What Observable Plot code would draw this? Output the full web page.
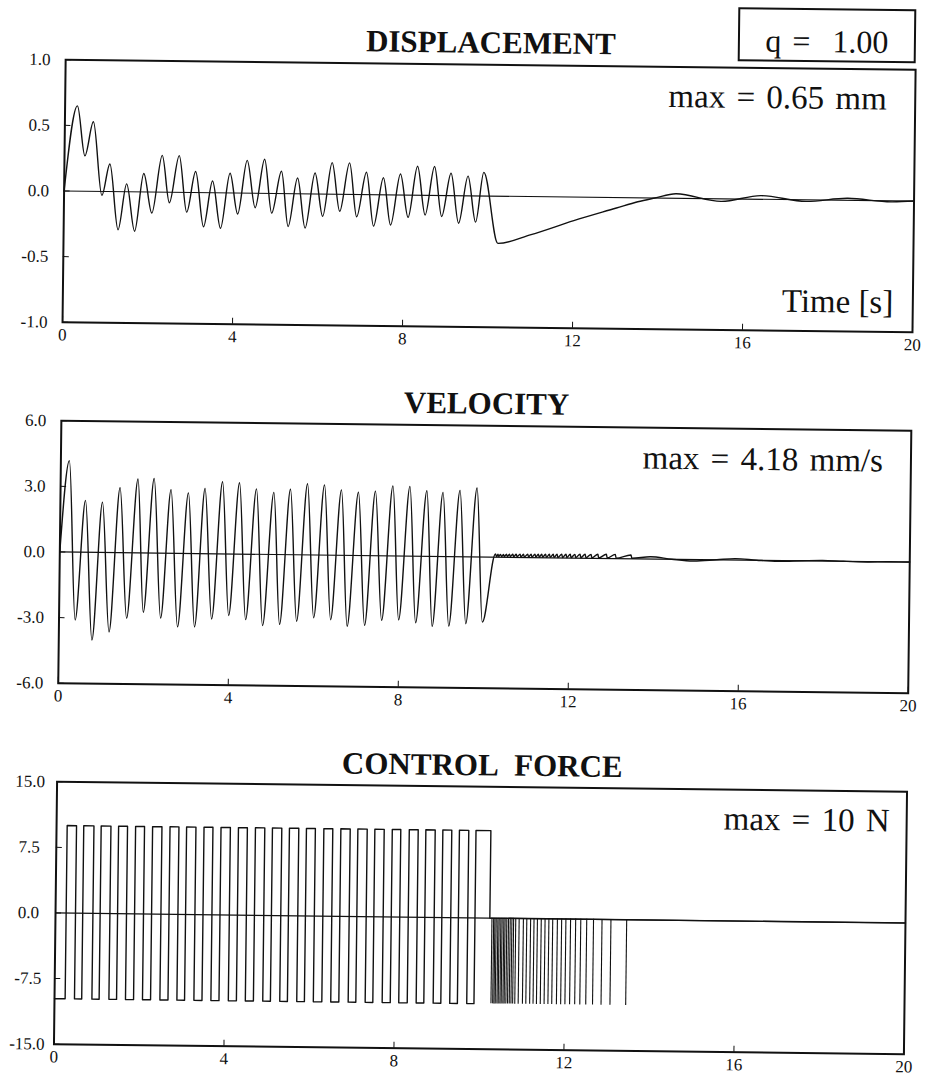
<!DOCTYPE html>
<html><head><meta charset="utf-8">
<script src="https://cdn.jsdelivr.net/npm/d3@7"></script>
<script src="https://cdn.jsdelivr.net/npm/@observablehq/plot@0.6"></script>
<style>
html,body{margin:0;padding:0;background:#fff;overflow:hidden;}
#fig{position:relative;width:927px;height:1077px;overflow:visible;font-family:"Liberation Serif","Times New Roman",serif;color:#111;transform:rotate(0.68deg);transform-origin:463.5px 538.5px;}
#qbox{position:absolute;left:732px;top:4px;width:178px;height:54px;box-sizing:border-box;border:2px solid #111;padding-top:15px;font-size:32px;line-height:32px;text-align:center;white-space:pre;word-spacing:3px;}
</style></head><body>
<div id="fig"><div id="qbox">q =  1.00</div></div>
<script>
// ---- tick values ----
const timeTicks = [0, 4, 8, 12, 16, 20];
const dispTicks = [-1.0, -0.5, 0.0, 0.5, 1.0];
const velTicks = [-6.0, -3.0, 0.0, 3.0, 6.0];
const forceTicks = [-15.0, -7.5, 0.0, 7.5, 15.0];

// ---- texts ----
const titles = ["DISPLACEMENT", "VELOCITY", "CONTROL\u00A0\u00A0FORCE"];
const notes = ["max = 0.65 mm", "max = 4.18 mm/s", "max\u00A0=\u00A010 N"];
const timeLabel = "Time [s]";

// ---- displacement [mm] (extremes) ----
const dispT = [0, 0.29, 0.48, 0.67, 0.89, 1.07, 1.28, 1.47, 1.67, 1.87, 2.07, 2.30, 2.48, 2.70, 2.89, 3.09, 3.29, 3.49, 3.69, 3.90, 4.09, 4.30, 4.50, 4.71, 4.89, 5.11, 5.28, 5.49, 5.68, 5.90, 6.09, 6.30, 6.49, 6.71, 6.89, 7.11, 7.29, 7.51, 7.69, 7.91, 8.10, 8.31, 8.50, 8.71, 8.89, 9.10, 9.29, 9.50, 9.69, 9.87, 10.22, 11.0, 12.0, 13.0, 13.5, 13.9, 14.4, 15.46, 16.4, 17.46, 18.44, 19.46, 20];
const dispV = [0, 0.65, 0.27, 0.53, -0.03, 0.21, -0.29, 0.06, -0.30, 0.14, -0.16, 0.28, -0.08, 0.28, -0.15, 0.16, -0.26, 0.09, -0.27, 0.15, -0.16, 0.25, -0.11, 0.26, -0.15, 0.17, -0.25, 0.12, -0.26, 0.16, -0.17, 0.24, -0.13, 0.24, -0.17, 0.17, -0.24, 0.13, -0.23, 0.16, -0.17, 0.22, -0.15, 0.22, -0.16, 0.17, -0.21, 0.15, -0.20, 0.18, -0.36, -0.29, -0.18, -0.08, -0.03, 0.0, 0.034, -0.02, 0.028, -0.012, 0.015, -0.008, 0];

// ---- velocity [mm/s] ----
const velT = [0, 0.20, 0.38, 0.59, 0.78, 0.99, 1.18, 1.40, 1.59, 1.82, 1.98, 2.20, 2.39, 2.60, 2.79, 3.01, 3.19, 3.40, 3.59, 3.81, 3.99, 4.21, 4.39, 4.61, 4.79, 5.02, 5.19, 5.41, 5.59, 5.81, 5.99, 6.21, 6.39, 6.61, 6.78, 7.01, 7.19, 7.41, 7.59, 7.82, 7.99, 8.22, 8.39, 8.62, 8.78, 9.00, 9.17, 9.40, 9.57, 9.80, 9.96];
const velV = [0, 4.18, -3.10, 2.37, -4.01, 2.30, -3.63, 2.97, -2.99, 3.38, -2.71, 3.41, -2.97, 2.91, -3.36, 2.77, -3.35, 2.98, -2.98, 3.30, -2.81, 3.26, -2.99, 2.99, -3.25, 2.84, -3.19, 2.99, -3.04, 3.25, -2.87, 3.21, -2.95, 2.99, -3.24, 2.89, -3.19, 2.95, -2.95, 3.20, -2.92, 3.19, -3.04, 3.00, -3.20, 2.93, -3.18, 3.03, -3.06, 3.15, -2.98];
// small chattering tail after the control switches off
const velTailT = [10.25, 10.28, 10.31, 10.33, 10.37, 10.40, 10.44, 10.46, 10.51, 10.53, 10.58, 10.60, 10.66, 10.68, 10.74, 10.76, 10.83, 10.85, 10.91, 10.93, 11.01, 11.03, 11.09, 11.11, 11.18, 11.20, 11.26, 11.28, 11.34, 11.36, 11.43, 11.45, 11.52, 11.54, 11.61, 11.63, 11.70, 11.72, 11.81, 11.83, 11.91, 11.93, 12.01, 12.03, 12.12, 12.14, 12.24, 12.26, 12.36, 12.38, 12.50, 12.52, 12.66, 12.68, 12.86, 12.88, 13.07, 13.09, 13.44, 13.46, 13.9, 14.4, 14.9, 15.46, 15.9, 16.4, 16.9, 17.46, 17.95, 18.44, 19.0, 19.5, 20];
const velTailV = [0.14, 0.03, 0.13, 0.03, 0.13, 0.03, 0.13, 0.03, 0.14, 0.03, 0.14, 0.03, 0.14, 0.03, 0.14, 0.03, 0.15, 0.02, 0.15, 0.02, 0.15, 0.02, 0.15, 0.02, 0.16, 0.02, 0.16, 0.02, 0.16, 0.02, 0.16, 0.02, 0.16, 0.02, 0.16, 0.02, 0.17, 0.02, 0.17, 0.02, 0.17, 0.02, 0.17, 0.02, 0.17, 0.02, 0.18, 0.02, 0.18, 0.02, 0.18, 0.02, 0.19, 0.02, 0.19, 0.02, 0.19, 0.02, 0.17, 0.02, 0.10, 0.0, -0.07, 0.0, 0.06, 0.0, -0.04, 0.0, 0.03, 0.0, -0.02, 0.0, 0.0];

// ---- control force [N]: switching times and level after each switch ----
const forceT = [0, 0.25, 0.47, 0.64, 0.88, 1.05, 1.28, 1.46, 1.67, 1.86, 2.07, 2.26, 2.48, 2.67, 2.88, 3.06, 3.28, 3.47, 3.68, 3.87, 4.09, 4.28, 4.49, 4.68, 4.90, 5.08, 5.30, 5.48, 5.70, 5.88, 6.09, 6.29, 6.50, 6.69, 6.91, 7.09, 7.31, 7.49, 7.71, 7.90, 8.10, 8.30, 8.51, 8.69, 8.91, 9.09, 9.30, 9.48, 9.70, 9.87, 10.22, 20];
const forceV = [-9.8, 10, -9.8, 10, -9.8, 10, -9.8, 10, -9.8, 10, -9.8, 10, -9.8, 10, -9.8, 10, -9.8, 10, -9.8, 10, -9.8, 10, -9.8, 10, -9.8, 10, -9.8, 10, -9.8, 10, -9.8, 10, -9.8, 10, -9.8, 10, -9.8, 10, -9.8, 10, -9.8, 10, -9.8, 10, -9.8, 10, -9.8, 10, -9.8, 10, 0, 0];
// chattering pulses 0 -> pulseLow
const pulseT = [10.27, 10.31, 10.34, 10.37, 10.41, 10.44, 10.48, 10.51, 10.55, 10.58, 10.62, 10.66, 10.70, 10.74, 10.78, 10.83, 10.91, 11.01, 11.09, 11.18, 11.26, 11.34, 11.43, 11.52, 11.61, 11.70, 11.81, 11.91, 12.01, 12.12, 12.24, 12.36, 12.50, 12.66, 12.86, 13.07, 13.44];
const pulseLow = -9.8;

const FONT = '"Liberation Serif", "Times New Roman", serif';
const INK = "#111";

function panel({top, yDomain, yTicks, yPad, yAnchor, title, titleDy, note, noteDx, noteDy, extra, marks}) {
  const chart = Plot.plot({
    width: 927, height: 356.5,
    marginTop: 64, marginBottom: 30, marginLeft: 59.5, marginRight: 17.5,
    x: {domain: [0, 20]},
    y: {domain: yDomain},
    style: {fontFamily: FONT, color: INK, background: "transparent", overflow: "visible"},
    marks: [
      Plot.ruleY([0], {strokeWidth: 1.2}),
      ...marks,
      Plot.frame({strokeWidth: 2}),
      Plot.axisX(timeTicks, {tickSize: -6, fill: "none", label: null}),
      Plot.axisX(timeTicks, {tickSize: 0, tickPadding: 6, fontSize: 17, fontFamily: FONT, label: null, tickFormat: d => String(d)}),
      Plot.axisY(yTicks, {tickSize: -6, fill: "none", label: null}),
      Plot.axisY(yTicks, {tickSize: 0, tickPadding: yPad, textAnchor: yAnchor, fontSize: 17, fontFamily: FONT, label: null, tickFormat: d => d.toFixed(1)}),
      Plot.text([title], {frameAnchor: "top", lineAnchor: "bottom", dy: titleDy, fontSize: 31, fontWeight: "bold", fontFamily: FONT}),
      Plot.text([note], {frameAnchor: "top-right", textAnchor: "end", lineAnchor: "bottom", dx: noteDx, dy: noteDy, fontSize: 33, fontFamily: FONT}),
      ...(extra || [])
    ]
  });
  // slightly wider word spacing, as in the printed annotations
  d3.select(chart).selectAll("text").filter(function() { return notes.includes(this.textContent); }).style("word-spacing", "3px");
  chart.style.position = "absolute";
  chart.style.left = "0px";
  chart.style.top = top + "px";
  document.getElementById("fig").appendChild(chart);
}

panel({
  top: 0, yDomain: [-1, 1], yTicks: dispTicks, yPad: 15, yAnchor: "end",
  title: titles[0], titleDy: -12, note: notes[0], noteDx: -28.5, noteDy: 40,
  extra: [Plot.text([timeLabel], {frameAnchor: "bottom-right", textAnchor: "end", lineAnchor: "bottom", dx: -19.5, dy: -19, fontSize: 33, fontFamily: FONT})],
  marks: [Plot.line(dispT, {x: dispT, y: dispV, curve: "monotone-x", stroke: INK, strokeWidth: 1.4})]
});

panel({
  top: 361, yDomain: [-6, 6], yTicks: velTicks, yPad: 15, yAnchor: "end",
  title: titles[1], titleDy: -12, note: notes[1], noteDx: -28, noteDy: 41,
  marks: [Plot.line(velT.concat(velTailT), {x: velT.concat(velTailT), y: velV.concat(velTailV), curve: "monotone-x", stroke: INK, strokeWidth: 1.4})]
});

panel({
  top: 722, yDomain: [-15, 15], yTicks: forceTicks, yPad: 27, yAnchor: "middle",
  title: titles[2], titleDy: -11.5, note: notes[2], noteDx: -17, noteDy: 40,
  marks: [
    Plot.line(forceT, {x: forceT, y: forceV, curve: "step-after", stroke: INK, strokeWidth: 1.4}),
    Plot.ruleX(pulseT, {x: pulseT, y1: 0, y2: pulseLow, stroke: INK, strokeWidth: 1.1})
  ]
});
</script>
</body></html>
